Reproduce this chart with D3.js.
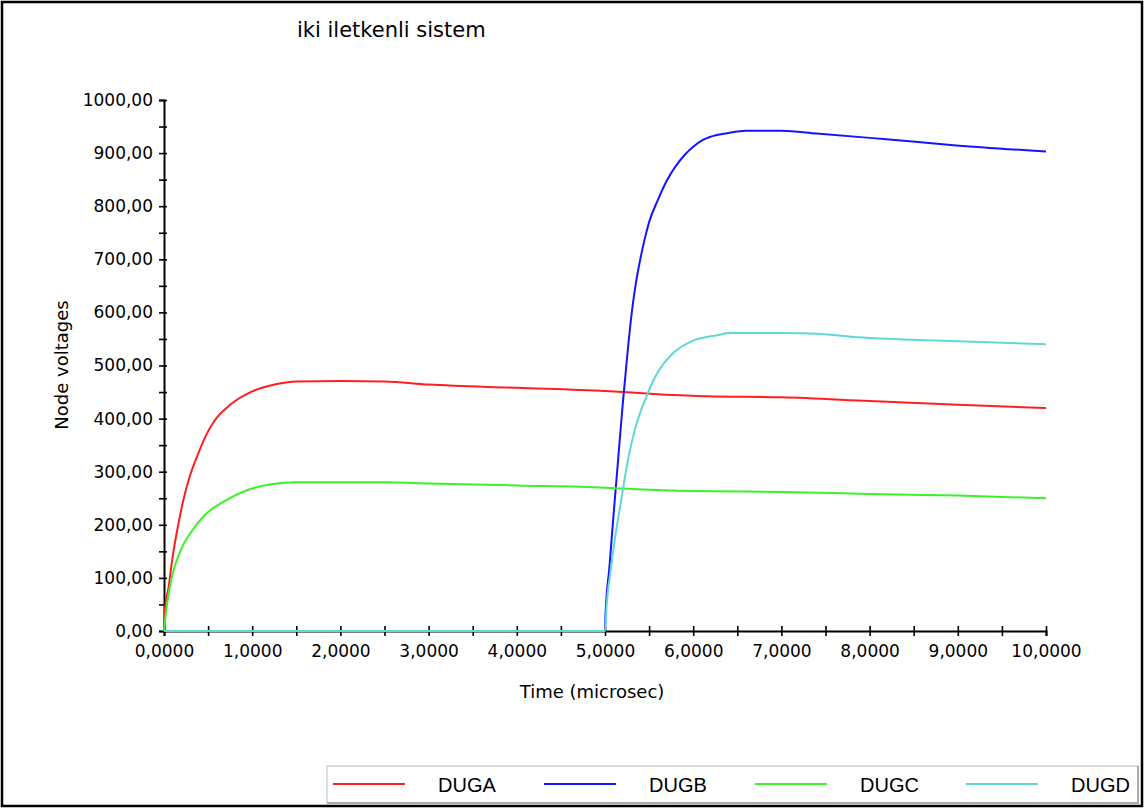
<!DOCTYPE html>
<html>
<head>
<meta charset="utf-8">
<script src="https://cdn.jsdelivr.net/npm/d3@7"></script>
<style>
  html, body { margin: 0; padding: 0; background: #ffffff; }
  svg { display: block; }
</style>
</head>
<body>
<svg id="chart" width="1144" height="808"></svg>
<script>
// ---------------- DATA ----------------
const chartTitle = "iki iletkenli sistem";
const xAxisTitle = "Time (microsec)";
const yAxisTitle = "Node voltages";
const seriesNames = ["DUGA", "DUGB", "DUGC", "DUGD"];
const seriesColors = ["#ff1e1e", "#1414ff", "#3cf02a", "#5ed8d6"];

const xTickValues = [0, 1, 2, 3, 4, 5, 6, 7, 8, 9, 10];
const yTickValues = [0, 100, 200, 300, 400, 500, 600, 700, 800, 900, 1000];

const dugaTime   = [0, 0.01, 0.05, 0.1, 0.16, 0.22, 0.29, 0.39, 0.47, 0.56, 0.75, 0.97, 1.28, 1.5, 2.0, 2.5, 3.0, 4.0, 5.0, 5.6, 6.15, 7.0, 8.0, 9.0, 10.0];
const dugaValues = [0, 40, 80, 142, 199, 247, 290, 335, 366, 393, 426, 449, 465, 470, 471, 470, 464, 458, 452, 446, 442, 440, 433, 426, 420];

const dugbTime   = [0, 5.0, 5.005, 5.05, 5.1, 5.15, 5.2, 5.25, 5.3, 5.35, 5.4, 5.45, 5.5, 5.6, 5.7, 5.8, 5.9, 6.0, 6.1, 6.2, 6.4, 6.6, 7.0, 7.4, 8.19, 8.95, 10.0];
const dugbValues = [0, 0, 27, 120, 225, 325, 425, 515, 595, 655, 700, 738, 770, 812, 848, 875, 896, 912, 924, 931, 938, 942, 942, 937, 926, 915, 903];

const dugcTime   = [0, 0.03, 0.09, 0.16, 0.22, 0.29, 0.46, 0.67, 0.94, 1.2, 1.5, 2.0, 2.5, 3.0, 4.0, 5.0, 5.5, 6.2, 7.0, 8.0, 9.0, 10.0];
const dugcValues = [0, 46, 102, 140, 163, 182, 218, 243, 265, 276, 280, 280, 280, 278, 274, 270, 266, 263, 262, 258, 255, 250];

const dugdTime   = [0, 5.0, 5.02, 5.06, 5.11, 5.19, 5.26, 5.34, 5.4, 5.45, 5.5, 5.58, 5.77, 6.0, 6.27, 6.42, 7.0, 7.4, 7.87, 8.74, 10.0];
const dugdValues = [0, 0, 52, 109, 171, 253, 322, 380, 412, 433, 454, 482, 523, 547, 557, 561, 561, 560, 553, 547, 540];

const seriesTimes  = [dugaTime, dugbTime, dugcTime, dugdTime];
const seriesValues = [dugaValues, dugbValues, dugcValues, dugdValues];

// ---------------- DRAW ----------------
const svg = d3.select("#chart");
const W = 1144, H = 808;

const plotLeft = 164, plotRight = 1046, plotTop = 100, plotBottom = 631;

const x = d3.scaleLinear().domain([0, 10]).range([plotLeft, plotRight]);
const y = d3.scaleLinear().domain([0, 1000]).range([plotBottom, plotTop]);

const locale = d3.formatLocale({ decimal: ",", thousands: "", grouping: [3], currency: ["", ""] });
const fmtY = locale.format(".2f");
const fmtX = locale.format(".4f");

// background + frame
svg.append("rect").attr("x", 0).attr("y", 0).attr("width", W).attr("height", H).attr("fill", "#ffffff");
svg.append("rect").attr("x", 2).attr("y", 2).attr("width", W - 4).attr("height", H - 4)
  .attr("fill", "none").attr("stroke", "#000").attr("stroke-width", 2.5);

// title
svg.append("text").attr("x", 297).attr("y", 37)
  .attr("font-family", "DejaVu Sans").attr("font-size", 21).attr("fill", "#000")
  .text(chartTitle);

// Y axis
const yMinor = d3.range(0, 1001, 50);
const yAxis = d3.axisLeft(y).tickValues(yMinor).tickSize(5).tickPadding(6)
  .tickFormat(d => (yTickValues.includes(d) ? fmtY(d) : ""));
const gy = svg.append("g").attr("transform", `translate(${plotLeft},0)`).call(yAxis);
gy.select(".domain").attr("stroke", "#000").attr("stroke-width", 2);
gy.selectAll(".tick line").attr("x1", 3).attr("stroke", "#000").attr("stroke-width", 1.6);
gy.selectAll(".tick text").attr("font-family", "DejaVu Sans").attr("font-size", 17).attr("fill", "#000");

// X axis
const xMinor = d3.range(0, 10.001, 0.5);
const xAxis = d3.axisBottom(x).tickValues(xMinor).tickSize(5).tickPadding(9)
  .tickFormat(d => (Math.abs(d - Math.round(d)) < 1e-9 && xTickValues.includes(Math.round(d)) ? fmtX(d) : ""));
const gx = svg.append("g").attr("transform", `translate(0,${plotBottom})`).call(xAxis);
gx.select(".domain").attr("stroke", "#000").attr("stroke-width", 2);
gx.selectAll(".tick line").attr("y1", -5).attr("stroke", "#000").attr("stroke-width", 1.6);
gx.selectAll(".tick text").attr("font-family", "DejaVu Sans").attr("font-size", 17).attr("fill", "#000");

// axis titles
svg.append("text").attr("x", 592).attr("y", 698).attr("text-anchor", "middle")
  .attr("font-family", "DejaVu Sans").attr("font-size", 18).attr("fill", "#000")
  .text(xAxisTitle);
svg.append("text").attr("transform", "translate(68,365) rotate(-90)").attr("text-anchor", "middle")
  .attr("font-family", "DejaVu Sans").attr("font-size", 18).attr("fill", "#000")
  .text(yAxisTitle);

// lines
const line = d3.line().x(d => x(d[0])).y(d => y(d[1])).curve(d3.curveMonotoneX);
seriesNames.forEach((name, i) => {
  const pts = seriesTimes[i].map((t, j) => [t, seriesValues[i][j]]);
  svg.append("path").datum(pts)
    .attr("fill", "none").attr("stroke", seriesColors[i]).attr("stroke-width", 2)
    .attr("d", line);
});

// legend
const lg = svg.append("g");
const lgX = 327, lgY = 766, lgW = 811, lgH = 37;
lg.append("rect").attr("x", lgX).attr("y", lgY).attr("width", lgW).attr("height", lgH).attr("fill", "#fff");
lg.append("path").attr("d", `M${lgX},${lgY + lgH} V${lgY} H${lgX + lgW}`).attr("fill", "none").attr("stroke", "#dcdcdc").attr("stroke-width", 2);
lg.append("path").attr("d", `M${lgX},${lgY + lgH} H${lgX + lgW} V${lgY}`).attr("fill", "none").attr("stroke", "#a8a8a8").attr("stroke-width", 2);
const itemW = 211;
seriesNames.forEach((name, i) => {
  const x0 = 333 + i * itemW;
  lg.append("line").attr("x1", x0).attr("x2", x0 + 72).attr("y1", 784).attr("y2", 784)
    .attr("stroke", seriesColors[i]).attr("stroke-width", 2);
  lg.append("text").attr("x", x0 + 105).attr("y", 792)
    .attr("font-family", "Liberation Sans").attr("font-size", 20).attr("fill", "#000")
    .text(name);
});
</script>
</body>
</html>
